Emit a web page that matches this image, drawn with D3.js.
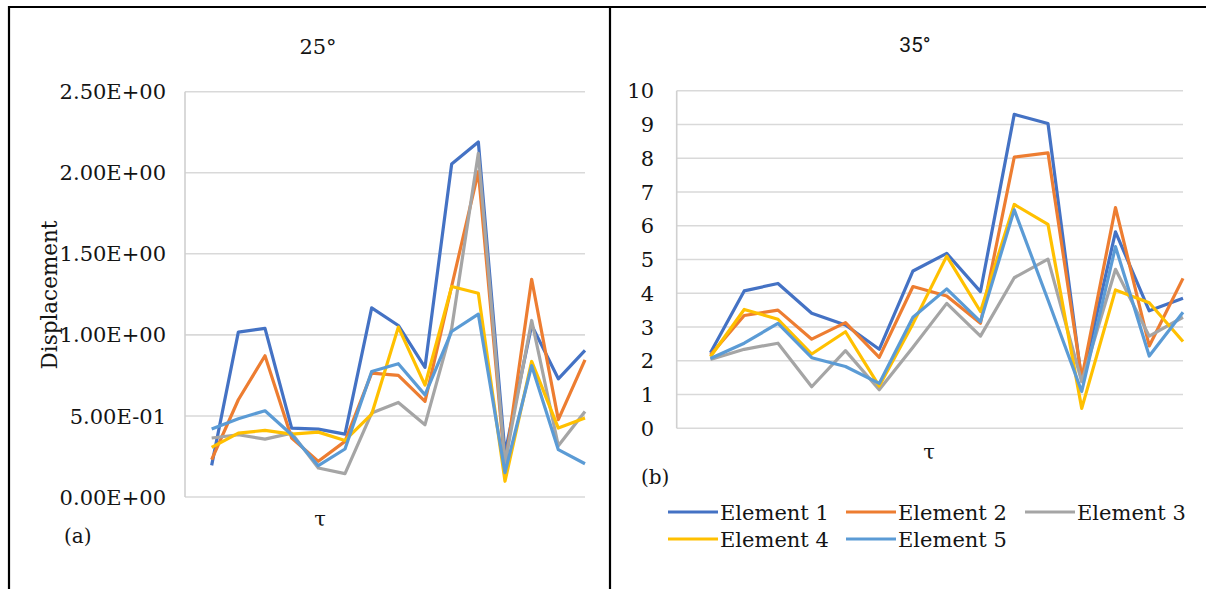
<!DOCTYPE html>
<html>
<head>
<meta charset="utf-8">
<script src="https://cdn.jsdelivr.net/npm/d3@7"></script>
<style>
  html, body { margin: 0; padding: 0; background: #fff; }
  svg text { fill: #141414; }
</style>
</head>
<body>
<svg id="fig" width="1206" height="589"></svg>
<script>
// ---- data ----
const seriesNames = ["Element 1", "Element 2", "Element 3", "Element 4", "Element 5"];
const seriesColors = ["#4472C4", "#ED7D31", "#A5A5A5", "#FFC000", "#5B9BD5"];

// panel (a): 25°
const a_e1 = [0.195, 1.017, 1.04, 0.425, 0.419, 0.388, 1.167, 1.058, 0.80, 2.054, 2.19, 0.27, 1.06, 0.729, 0.904];
const a_e2 = [0.23, 0.60, 0.871, 0.364, 0.22, 0.343, 0.764, 0.75, 0.59, 1.30, 2.007, 0.19, 1.343, 0.477, 0.846];
const a_e3 = [0.364, 0.384, 0.357, 0.394, 0.179, 0.144, 0.518, 0.583, 0.446, 1.04, 2.12, 0.21, 1.089, 0.316, 0.528];
const a_e4 = [0.306, 0.394, 0.411, 0.388, 0.40, 0.349, 0.511, 1.048, 0.69, 1.298, 1.257, 0.097, 0.836, 0.425, 0.487];
const a_e5 = [0.419, 0.483, 0.532, 0.384, 0.193, 0.296, 0.774, 0.822, 0.63, 1.021, 1.128, 0.15, 0.81, 0.292, 0.205];
const a_ticks = [0, 0.5, 1.0, 1.5, 2.0, 2.5];

// panel (b): 35°
const b_e1 = [2.24, 4.07, 4.29, 3.41, 3.06, 2.34, 4.66, 5.18, 4.05, 9.3, 9.03, 1.4, 5.82, 3.48, 3.85];
const b_e2 = [2.17, 3.34, 3.5, 2.64, 3.13, 2.1, 4.2, 3.92, 3.11, 8.03, 8.16, 1.48, 6.54, 2.44, 4.44];
const b_e3 = [2.04, 2.34, 2.52, 1.23, 2.3, 1.14, 2.4, 3.7, 2.73, 4.46, 5.01, 1.38, 4.71, 2.73, 3.29];
const b_e4 = [2.12, 3.52, 3.23, 2.2, 2.86, 1.25, 3.1, 5.1, 3.46, 6.63, 6.04, 0.59, 4.1, 3.72, 2.57];
const b_e5 = [2.07, 2.52, 3.11, 2.09, 1.83, 1.33, 3.29, 4.13, 3.16, 6.47, 3.8, 1.09, 5.38, 2.14, 3.44];
const b_ticks = [0, 1, 2, 3, 4, 5, 6, 7, 8, 9, 10];

const SERIF = "'DejaVu Serif', serif";
const SANS = "Roboto, 'Open Sans', sans-serif";

const svg = d3.select("#fig");

// frame lines around the two panels
const frame = svg.append("g").attr("stroke", "#000").attr("stroke-width", 2.2);
frame.append("line").attr("x1", 8).attr("x2", 1206).attr("y1", 7).attr("y2", 7);
frame.append("line").attr("x1", 9).attr("x2", 9).attr("y1", 6).attr("y2", 589);
frame.append("line").attr("x1", 610).attr("x2", 610).attr("y1", 6).attr("y2", 589);

// "2.50E+00" style labels
function sci(v) {
  if (v === 0) return "0.00E+00";
  const e = Math.floor(Math.log10(Math.abs(v)) + 1e-9);
  const m = v / Math.pow(10, e);
  const sign = e < 0 ? "-" : "+";
  return m.toFixed(2) + "E" + sign + String(Math.abs(e)).padStart(2, "0");
}

function panel(opt) {
  const g = svg.append("g");
  const x = d3.scaleLinear().domain([0, 15]).range([opt.left, opt.right]);
  const y = d3.scaleLinear().domain([0, opt.max]).range([opt.bottom, opt.top]);

  // horizontal gridlines
  g.append("g").selectAll("line").data(opt.ticks).join("line")
    .attr("x1", opt.left).attr("x2", opt.right)
    .attr("y1", d => y(d)).attr("y2", d => y(d))
    .attr("stroke", "#d9d9d9").attr("stroke-width", 1.6);

  // value axis line
  g.append("line")
    .attr("x1", opt.left).attr("x2", opt.left)
    .attr("y1", y(opt.max)).attr("y2", y(0))
    .attr("stroke", "#d0d0d0").attr("stroke-width", 1.6);

  // tick labels
  g.append("g").selectAll("text").data(opt.ticks).join("text")
    .attr("x", opt.labelX).attr("y", d => y(d))
    .attr("dy", "0.36em")
    .attr("text-anchor", "end")
    .attr("font-family", SERIF).attr("font-size", opt.tickSize)
    .text(opt.fmt);

  // series lines
  const line = d3.line().x((d, i) => x(i + 1)).y(d => y(d));
  opt.series.forEach((s, k) => {
    g.append("path").datum(s)
      .attr("fill", "none")
      .attr("stroke", seriesColors[k])
      .attr("stroke-width", 3.2)
      .attr("stroke-linejoin", "round")
      .attr("d", line);
  });

  // title
  g.append("text")
    .attr("x", opt.titleX).attr("y", opt.titleY)
    .attr("text-anchor", "middle")
    .attr("font-family", opt.titleFont).attr("font-size", opt.titleSize)
    .text(opt.title);

  // category axis title
  g.append("text")
    .attr("x", opt.tauX).attr("y", opt.tauY)
    .attr("text-anchor", "middle")
    .attr("font-family", SERIF).attr("font-size", 21)
    .text("τ");

  // panel tag
  g.append("text")
    .attr("x", opt.tagX).attr("y", opt.tagY)
    .attr("font-family", SERIF).attr("font-size", 20)
    .text(opt.tag);

  return g;
}

panel({
  left: 185, right: 585, top: 91.7, bottom: 497, max: 2.5,
  ticks: a_ticks, fmt: sci, labelX: 166, tickSize: 21,
  series: [a_e1, a_e2, a_e3, a_e4, a_e5],
  title: "25°", titleX: 318, titleY: 54, titleFont: SERIF, titleSize: 21,
  tauX: 320, tauY: 526, tag: "(a)", tagX: 64, tagY: 543
});

// value axis title for panel (a)
svg.append("text")
  .attr("transform", "translate(57,295) rotate(-90)")
  .attr("text-anchor", "middle")
  .attr("font-family", SERIF).attr("font-size", 21.5)
  .text("Displacement");

panel({
  left: 676.7, right: 1183, top: 90.7, bottom: 428.3, max: 10,
  ticks: b_ticks, fmt: d => d, labelX: 654, tickSize: 21,
  series: [b_e1, b_e2, b_e3, b_e4, b_e5],
  title: "35°", titleX: 915, titleY: 52, titleFont: SANS, titleSize: 21,
  tauX: 929, tauY: 459, tag: "(b)", tagX: 641, tagY: 484
});

// legend for panel (b)
const legendPos = [
  { x: 668, y: 512 }, { x: 846, y: 512 }, { x: 1025, y: 512 },
  { x: 668, y: 539 }, { x: 846, y: 539 }
];
const legend = svg.append("g");
seriesNames.forEach((name, k) => {
  const p = legendPos[k];
  legend.append("line")
    .attr("x1", p.x).attr("x2", p.x + 50)
    .attr("y1", p.y).attr("y2", p.y)
    .attr("stroke", seriesColors[k]).attr("stroke-width", 3.2);
  legend.append("text")
    .attr("x", p.x + 52).attr("y", p.y).attr("dy", "0.36em")
    .attr("font-family", SERIF).attr("font-size", 21)
    .text(name);
});
</script>
</body>
</html>
